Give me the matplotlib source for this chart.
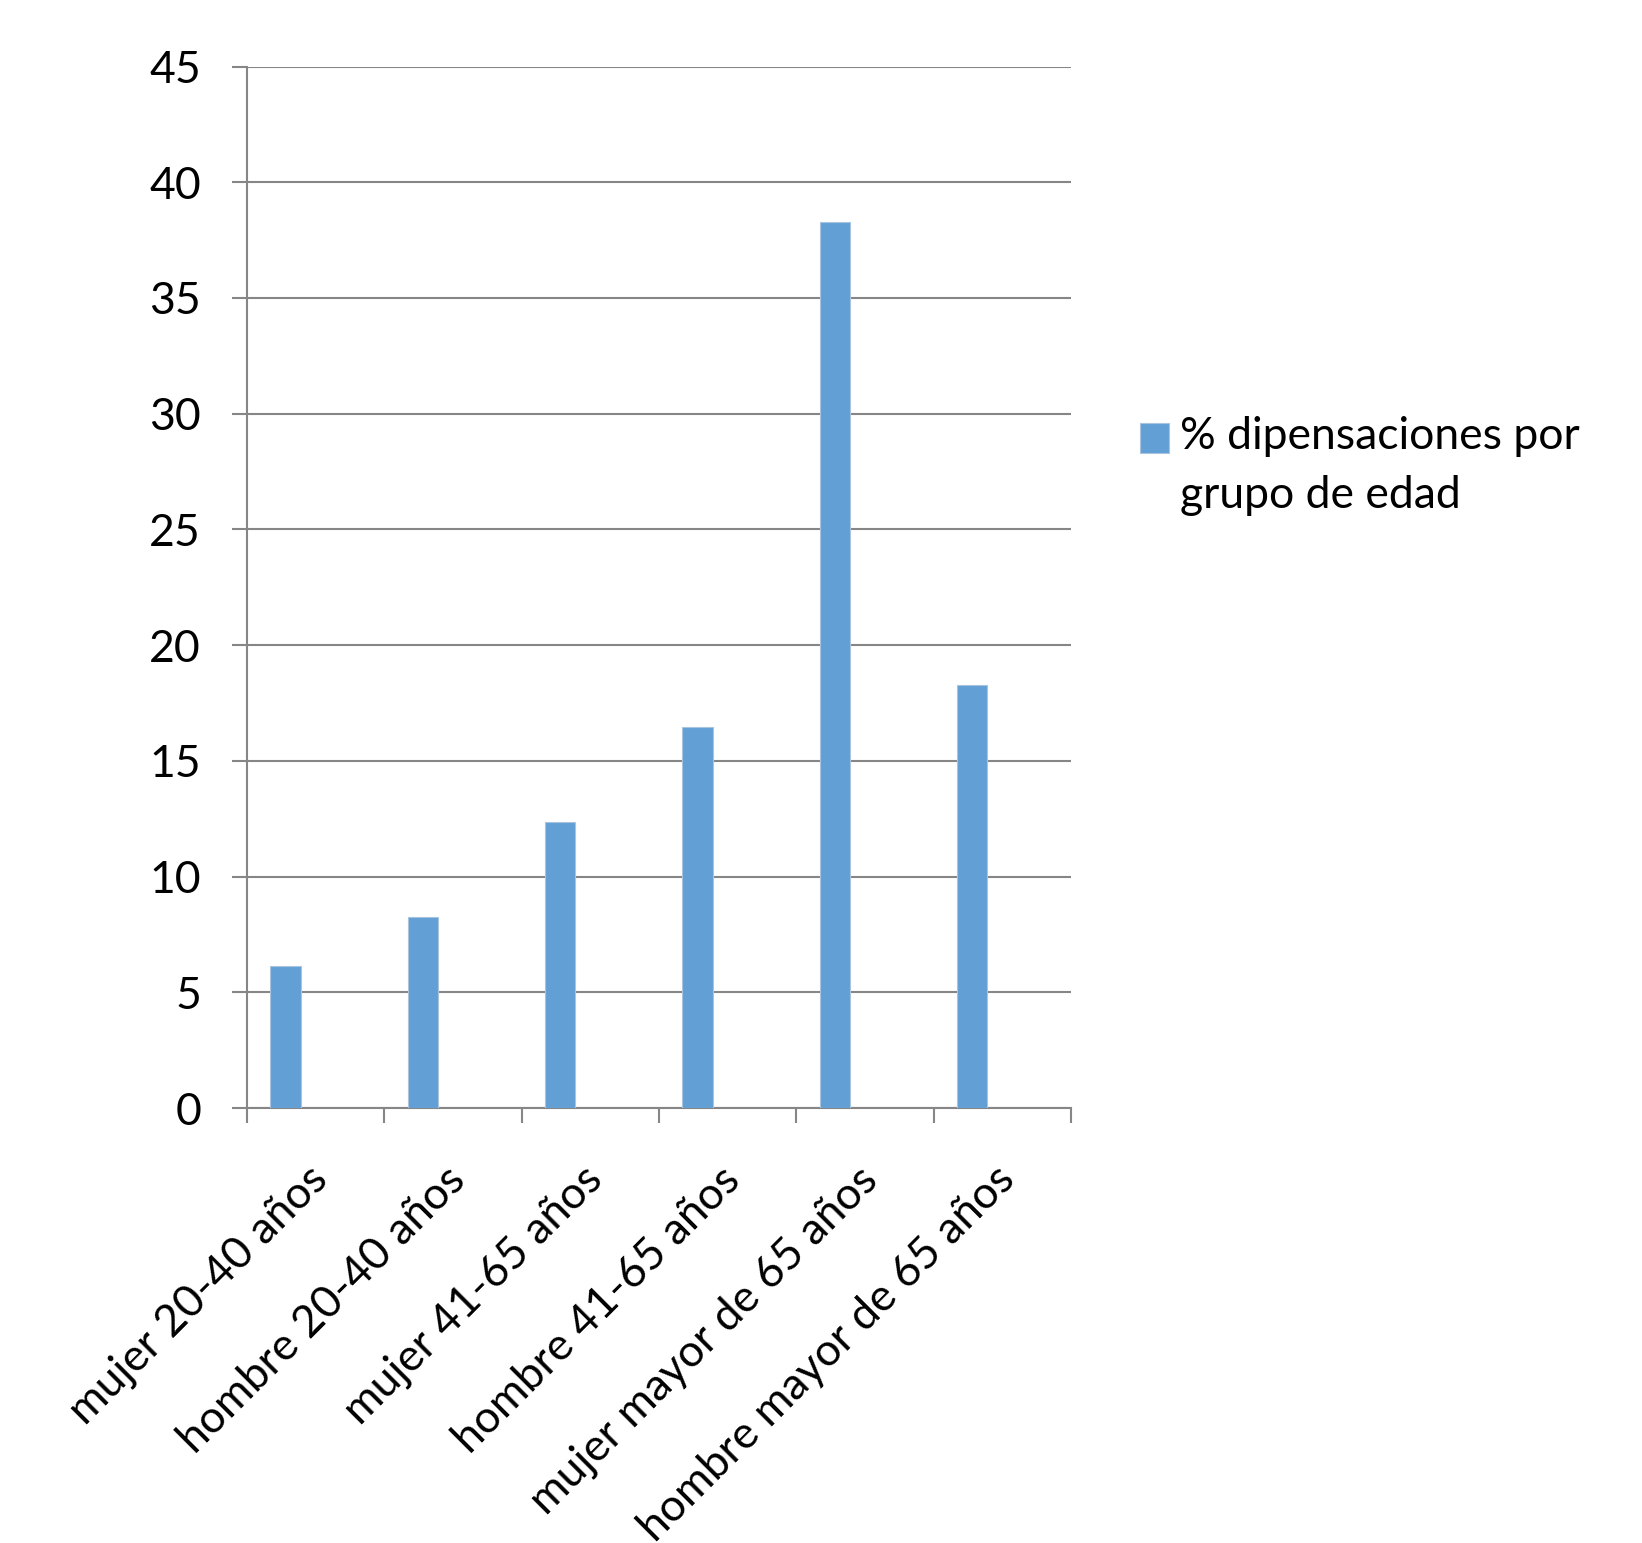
import numpy as np
import matplotlib.pyplot as plt
from matplotlib.transforms import ScaledTranslation

categorias = ['mujer 20-40 años', 'hombre 20-40 años', 'mujer 41-65 años',
              'hombre 41-65 años', 'mujer mayor de 65 años', 'hombre mayor de 65 años']
valores = [6.15, 8.27, 12.37, 16.47, 38.27, 18.28]
serie = '% dipensaciones por\ngrupo de edad'
yticks = [0, 5, 10, 15, 20, 25, 30, 35, 40, 45]

plt.rcParams['font.family'] = ['Lato', 'DejaVu Sans']
gris = '#868686'
fs = 32

fig = plt.figure(figsize=(16.42, 15.43), dpi=100)
ax = fig.add_axes([0.1504, 0.2819, 0.5019, 0.675])

x = np.arange(len(categorias))
ax.bar(x - 0.22, valores, width=0.22, color='#629fd5', edgecolor='#a9c4df',
       linewidth=0.8, label=serie, zorder=3)

ax.set_xlim(-0.5, len(categorias) - 0.5)
ax.set_ylim(0, 45)
ax.set_yticks(yticks)
ax.yaxis.grid(True, color=gris, linewidth=1.5, zorder=0)

ax.set_xticks(x)
ax.set_xticklabels(categorias, rotation=45, ha='right', va='center',
                   rotation_mode='anchor', fontsize=fs)
ax.set_xticks(np.arange(len(categorias) + 1) - 0.5, minor=True)
ax.tick_params(axis='x', which='major', length=0, pad=47)
ax.tick_params(axis='x', which='minor', length=11, width=1.5, color=gris, direction='out')
ax.tick_params(axis='y', length=11, width=1.5, color=gris, pad=22, labelsize=fs)

# nudge x labels a little to the right
desp = ScaledTranslation(6 / 100, 0, fig.dpi_scale_trans)
for t in ax.get_xticklabels():
    t.set_transform(t.get_transform() + desp)

for s in ['top', 'right']:
    ax.spines[s].set_visible(False)
for s in ['left', 'bottom']:
    ax.spines[s].set_color(gris)
    ax.spines[s].set_linewidth(1.5)

leg = ax.legend(loc='upper left', bbox_to_anchor=(1140 / 1642, 1 - 416 / 1543),
                bbox_transform=fig.transFigure, frameon=False, fontsize=fs,
                handlelength=0.65, handleheight=0.65, handletextpad=0.25,
                borderaxespad=0, borderpad=0)
leg.get_texts()[0].set_linespacing(1.55)
h = leg.legend_handles[0]
h.set_y(h.get_y() + 21)

fig.savefig('out.png', dpi=100)
